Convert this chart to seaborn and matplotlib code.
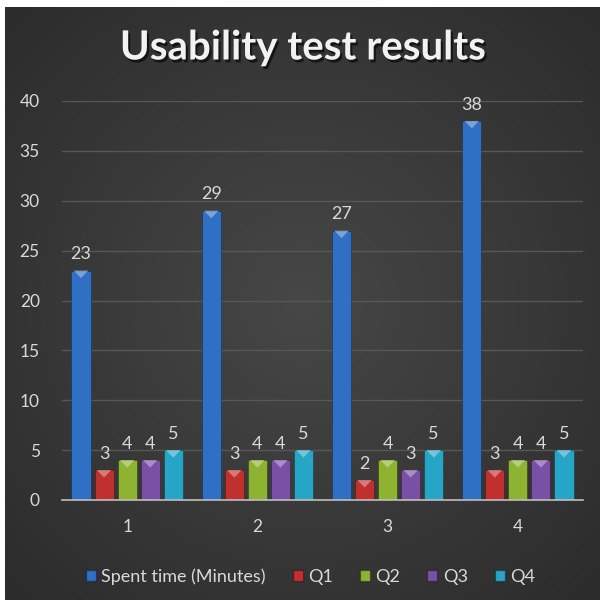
import numpy as np
import pandas as pd
import matplotlib
matplotlib.use("Agg")
import matplotlib.pyplot as plt
import matplotlib.patheffects as pe
from matplotlib.patches import Patch, Polygon
import seaborn as sns

# data
sessions = ["1", "2", "3", "4"]
spent_time = [23, 29, 27, 38]
q1 = [3, 3, 2, 3]
q2 = [4, 4, 4, 4]
q3 = [4, 4, 3, 4]
q4 = [5, 5, 5, 5]
series_names = ["Spent time (Minutes)", "Q1", "Q2", "Q3", "Q4"]
colors = ["#2f6fc4", "#c0302f", "#8db331", "#7a4fa6", "#27a5c6"]

rows = []
for name, vals in zip(series_names, [spent_time, q1, q2, q3, q4]):
    for s, v in zip(sessions, vals):
        rows.append({"Session": s, "Series": name, "Value": v})
df = pd.DataFrame(rows)

sns.set_style("dark")
plt.rcParams["font.family"] = ["Lato", "DejaVu Sans"]
txt = "#d9d9d9"

fig = plt.figure(figsize=(6.03, 6.07), dpi=100)
fig.patch.set_facecolor("white")

# dark chart background with a soft radial highlight
bg = fig.add_axes([5 / 603, 7 / 607, 595 / 603, 593 / 607], zorder=-1)
yy, xx = np.mgrid[-1:1:300j, -1:1:300j]
r = np.sqrt(xx ** 2 + yy ** 2)
shade = np.clip(1 - r / 1.4, 0, 1)
bg.imshow(shade, cmap=matplotlib.colors.LinearSegmentedColormap.from_list(
    "g", ["#2c2c2c", "#474747"]), aspect="auto", extent=[0, 1, 0, 1])
bg.set_axis_off()

ax = fig.add_axes([62 / 603, 1 - 500 / 607, 521 / 603, 399 / 607])
ax.set_facecolor("none")
sns.barplot(data=df, x="Session", y="Value", hue="Series", palette=colors,
            saturation=1, width=0.885, gap=0.17, ax=ax, legend=False, zorder=3)

# bevel look: lighter triangle at the top of every bar
for patch in list(ax.patches):
    patch.set_edgecolor((0, 0, 0, 0.3))
    patch.set_linewidth(0.6)
    x0, w, h = patch.get_x(), patch.get_width(), patch.get_height()
    light = tuple(min(1, c * 0.55 + 0.45) for c in patch.get_facecolor()[:3])
    tri = Polygon([(x0 + w * 0.12, h), (x0 + w * 0.88, h), (x0 + w / 2, h - 0.75)],
                  closed=True, facecolor=light, edgecolor="none", alpha=0.8, zorder=4)
    ax.add_patch(tri)

for cont in ax.containers:
    ax.bar_label(cont, padding=6, color=txt, fontsize=13)

ax.set_ylim(0, 40)
ax.set_xlim(-0.5, 3.5)
ax.set_yticks(range(0, 41, 5))
ax.grid(axis="y", color="#575757", linewidth=1, zorder=0)
ax.grid(axis="x", visible=False)
for s in ["top", "right", "left"]:
    ax.spines[s].set_visible(False)
ax.spines["bottom"].set_color("#bfbfbf")
ax.spines["bottom"].set_linewidth(1.2)
ax.spines["bottom"].set_zorder(5)
ax.tick_params(axis="both", colors=txt, labelsize=12.5, length=0)
ax.tick_params(axis="y", pad=16)
ax.tick_params(axis="x", pad=14)
ax.set_xlabel("")
ax.set_ylabel("")

fig.text(0.502, 1 - 48 / 607, "Usability test results", ha="center", va="center",
         color="#f2f2f2", fontsize=29, fontweight="bold",
         path_effects=[pe.withSimplePatchShadow(offset=(1.5, -2), shadow_rgbFace="black", alpha=0.6)])

handles = [Patch(facecolor=c, edgecolor=(0, 0, 0, 0.3)) for c in colors]
fig.legend(handles, series_names, loc="center", bbox_to_anchor=(0.515, 1 - 577 / 607),
           ncol=5, frameon=False, fontsize=13, labelcolor=txt, handlelength=0.55,
           handleheight=0.55, handletextpad=0.3, columnspacing=1.5)

fig.savefig("out.png", dpi=100)
